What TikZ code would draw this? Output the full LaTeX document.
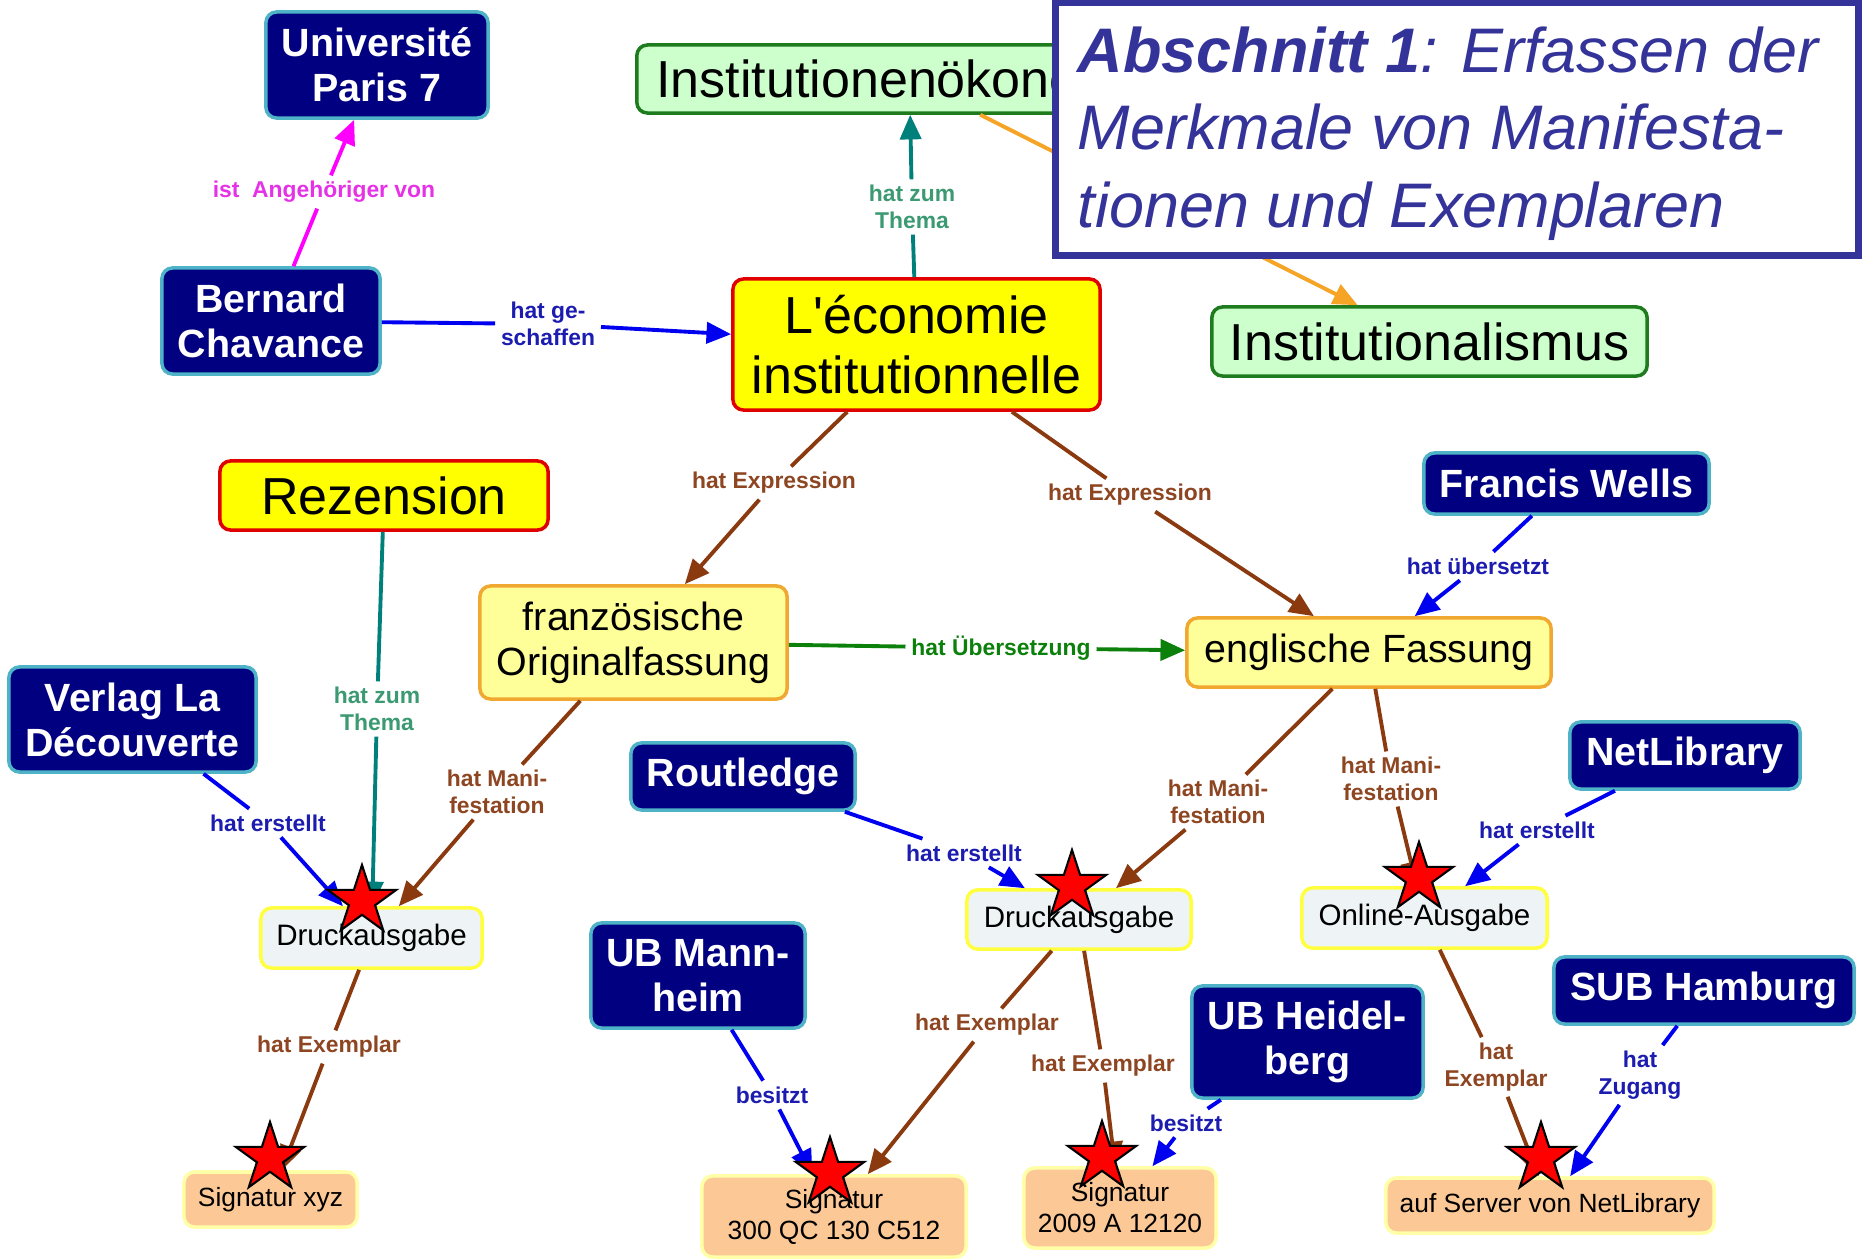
\documentclass[tikz,border=0pt]{standalone}
\usepackage{fontspec}
\setmainfont{Liberation Sans}
\newfontfamily\plainsans{Liberation Sans}
\usetikzlibrary{arrows.meta,shapes.geometric}
\definecolor{navy}{HTML}{000080}
\definecolor{navyb}{HTML}{4FB3C8}
\definecolor{yel}{HTML}{FFFF00}
\definecolor{redb}{HTML}{E00000}
\definecolor{lyel}{HTML}{FFFF99}
\definecolor{orab}{HTML}{F0A830}
\definecolor{lgreen}{HTML}{CCFFCC}
\definecolor{dgreen}{HTML}{1E7B1E}
\definecolor{leaf}{HTML}{EEF3F5}
\definecolor{leafb}{HTML}{FFFF40}
\definecolor{peach}{HTML}{FCC896}
\definecolor{peachb}{HTML}{FFFFA8}
\definecolor{absc}{HTML}{333399}
\definecolor{brownl}{HTML}{8B3A0F}
\definecolor{brownt}{HTML}{8E4622}
\definecolor{bluel}{HTML}{0000F0}
\definecolor{bluet}{HTML}{1C1CB0}
\definecolor{magl}{HTML}{FF00FF}
\definecolor{magt}{HTML}{E632E6}
\definecolor{teall}{HTML}{00807A}
\definecolor{tealt}{HTML}{3C9A72}
\definecolor{greenl}{HTML}{0B800B}
\definecolor{orangel}{HTML}{F5A425}
\begin{document}
\begin{tikzpicture}[x=0.01cm,y=-0.01cm,
  navybox/.style={draw=navyb, fill=navy, line width=1pt, rounded corners=3pt, text=white,
    font=\bfseries\fontsize{11.2}{12.8}\selectfont, align=center, inner sep=0pt},
  bigbox/.style={draw=redb, fill=yel, line width=1pt, rounded corners=3pt,
    font=\fontsize{14.8}{17}\selectfont, align=center, inner sep=0pt},
  greenbox/.style={draw=dgreen, fill=lgreen, line width=1pt, rounded corners=3pt,
    font=\fontsize{14.8}{17}\selectfont, align=center, inner sep=0pt},
  expbox/.style={draw=orab, fill=lyel, line width=1pt, rounded corners=3pt,
    font=\fontsize{11.2}{12.8}\selectfont, align=center, inner sep=0pt},
  manbox/.style={draw=leafb, fill=leaf, line width=1pt, rounded corners=3pt,
    font=\fontsize{8.4}{10}\selectfont, align=center, inner sep=0pt},
  sigbox/.style={draw=peachb, fill=peach, line width=1pt, rounded corners=3pt,
    font=\fontsize{7.5}{8.8}\selectfont, align=center, inner sep=0pt},
  lab/.style={font=\bfseries\fontsize{6.5}{7.5}\selectfont, align=center, inner sep=1.5pt},
  conn/.style={line width=1.1pt},
  arr/.style={-{Triangle[length=7pt,width=6pt]}},
  bro/.style={conn, draw=brownl},
  blu/.style={conn, draw=bluel},
  mag/.style={conn, draw=magl},
  tea/.style={conn, draw=teall},
  grn/.style={conn, draw=greenl},
  ora/.style={conn, draw=orangel},
  starmark/.style={star, star points=5, star point ratio=2.618, minimum size=0.72cm,
    inner sep=0pt, fill=red, draw=black, line width=0.6pt}
]
\fill[white] (0,0) rectangle (1865,1260);
\useasboundingbox (0,0) rectangle (1865,1260);

% concept nodes
\node[navybox, minimum width=2.22cm, minimum height=1.06cm] (univ) at (377,65) {Université\\Paris 7};
\node[navybox, minimum width=2.18cm, minimum height=1.06cm] (bern) at (271,321) {Bernard\\Chavance};
\node[greenbox, minimum width=5.45cm, minimum height=0.68cm] (inst) at (909.5,79) {Institutionenökonomie};
\node[bigbox, minimum width=3.67cm, minimum height=1.31cm] (leco) at (916.5,344.5) {L{\plainsans'}économie\\institutionnelle};
\node[greenbox, minimum width=4.35cm, minimum height=0.69cm] (instal) at (1429.5,341.5) {Institutionalismus};
\node[bigbox, minimum width=3.28cm, minimum height=0.69cm] (rez) at (384,495.5) {Rezension};
\node[expbox, minimum width=3.07cm, minimum height=1.13cm] (franz) at (633.5,642.5) {französische\\Originalfassung};
\node[expbox, minimum width=3.64cm, minimum height=0.69cm] (engl) at (1369,652.5) {englische Fassung};
\node[navybox, minimum width=2.85cm, minimum height=0.61cm] (wells) at (1566.5,483.5) {Francis Wells};
\node[navybox, minimum width=2.47cm, minimum height=1.05cm] (verlag) at (132.5,719.5) {Verlag La\\Découverte};
\node[navybox, minimum width=2.24cm, minimum height=0.67cm] (routledge) at (743,776.5) {Routledge};
\node[navybox, minimum width=2.30cm, minimum height=0.67cm] (netlib) at (1685,755.5) {NetLibrary};
\node[navybox, minimum width=2.14cm, minimum height=1.05cm] (mannheim) at (698,975.5) {UB Mann-\\heim};
\node[navybox, minimum width=2.31cm, minimum height=1.12cm] (heidel) at (1307.5,1042) {UB Heidel-\\berg};
\node[navybox, minimum width=3.00cm, minimum height=0.67cm] (hamburg) at (1704,990.5) {SUB Hamburg};
\node[manbox, minimum width=2.21cm, minimum height=0.60cm] (druckL) at (371.5,938) {Druckausgabe};
\node[manbox, minimum width=2.24cm, minimum height=0.59cm] (druckM) at (1079,919.5) {Druckausgabe};
\node[manbox, minimum width=2.45cm, minimum height=0.60cm] (online) at (1424.5,918) {Online-Ausgabe};
\node[sigbox, minimum width=1.73cm, minimum height=0.55cm] (sigxyz) at (270.5,1199.5) {Signatur xyz};
\node[sigbox, minimum width=2.64cm, minimum height=0.81cm] (sig300) at (834,1216.5) {Signatur\\300 QC 130 C512};
\node[sigbox, minimum width=1.92cm, minimum height=0.80cm] (sig2009) at (1120,1208) {Signatur\\2009 A 12120};
\node[sigbox, minimum width=3.28cm, minimum height=0.55cm] (server) at (1550,1205.5) {auf Server von NetLibrary};

% linking phrases
\node[lab, text=magt] (l1) at (324,192) {ist\ \ Angehöriger von};
\node[lab, text=bluet] (l2) at (548,324) {hat ge-\\schaffen};
\node[lab, text=tealt] (l3) at (912,207) {hat zum\\Thema};
\node[lab, text=brownt] (l4) at (774,483) {hat Expression};
\node[lab, text=brownt] (l5) at (1130,495) {hat Expression};
\node[lab, text=greenl] (l6) at (1001,648) {hat Übersetzung};
\node[lab, text=bluet] (l7) at (1478,566) {hat übersetzt};
\node[lab, text=tealt] (l8) at (377,709) {hat zum\\Thema};
\node[lab, text=bluet] (l9) at (268,823) {hat erstellt};
\node[lab, text=brownt] (l10) at (497,792) {hat Mani-\\festation};
\node[lab, text=brownt] (l11) at (329,1047) {hat Exemplar};
\node[lab, text=bluet] (l12) at (964,853) {hat erstellt};
\node[lab, text=brownt] (l13) at (1218,802) {hat Mani-\\festation};
\node[lab, text=brownt] (l14) at (1391,779) {hat Mani-\\festation};
\node[lab, text=bluet] (l15) at (1537,830) {hat erstellt};
\node[lab, text=brownt] (l16) at (987,1025) {hat Exemplar};
\node[lab, text=brownt] (l17) at (1103,1066) {hat Exemplar};
\node[lab, text=bluet] (l18) at (772,1095) {besitzt};
\node[lab, text=bluet] (l19) at (1186,1123) {besitzt};
\node[lab, text=brownt] (l20) at (1496,1067) {hat\\Exemplar};
\node[lab, text=bluet] (l21) at (1640,1075) {hat\\Zugang};

% connectors
\draw[mag] (bern) -- (l1); \draw[mag,arr] (l1) -- (univ);
\draw[blu] (bern) -- (l2); \draw[blu,arr] (l2) -- (leco);
\draw[tea] (leco) -- (l3); \draw[tea,arr] (l3) -- (inst);
\draw[ora,arr] (inst) -- (instal);
\draw[bro] (leco) -- (l4); \draw[bro,arr] (l4) -- (franz);
\draw[bro] (leco) -- (l5); \draw[bro,arr] (l5) -- (engl);
\draw[grn] (franz) -- (l6); \draw[grn,arr] (l6) -- (engl);
\draw[blu] (wells) -- (l7); \draw[blu,arr] (l7) -- (engl);
\draw[tea] (rez) -- (l8); \draw[tea,arr] (l8) -- (druckL);
\draw[blu] (verlag) -- (l9); \draw[blu,arr] (l9) -- (druckL);
\draw[bro] (franz) -- (l10); \draw[bro,arr] (l10) -- (druckL);
\draw[bro] (druckL) -- (l11); \draw[bro,arr] (l11) -- (sigxyz);
\draw[blu] (routledge) -- (l12); \draw[blu,arr] (l12) -- (druckM);
\draw[bro] (engl) -- (l13); \draw[bro,arr] (l13) -- (druckM);
\draw[bro] (engl) -- (l14); \draw[bro,arr] (l14) -- (online);
\draw[blu] (netlib) -- (l15); \draw[blu,arr] (l15) -- (online);
\draw[bro] (druckM) -- (l16); \draw[bro,arr] (l16) -- (sig300);
\draw[bro] (druckM) -- (l17); \draw[bro,arr] (l17) -- (sig2009);
\draw[blu] (mannheim) -- (l18); \draw[blu,arr] (l18) -- (sig300);
\draw[blu] (heidel) -- (l19); \draw[blu,arr] (l19) -- (sig2009);
\draw[bro] (online) -- (l20); \draw[bro,arr] (l20) -- (server);
\draw[blu] (hamburg) -- (l21); \draw[blu,arr] (l21) -- (server);

% stars
\node[starmark] (s1) at (362,901) {};
\node[starmark] (s2) at (270,1158) {};
\node[starmark] (s3) at (830,1173) {};
\node[starmark] (s4) at (1072,886) {};
\node[starmark] (s5) at (1102,1157) {};
\node[starmark] (s6) at (1419,878) {};
\node[starmark] (s7) at (1541,1158) {};

% title box
\node[draw=absc, line width=2pt, fill=white, minimum width=8.02cm, minimum height=2.52cm,
  inner sep=0pt] (abs) at (1457,129) {};
\node[anchor=base west, inner sep=0pt, align=left, text=absc,
  font=\itshape\fontsize{17.9}{21.9}\selectfont] (abstext) at (1077,227)
  {\textbf{Abschnitt 1}: Erfassen der\\Merkmale von Manifesta-\\tionen und Exemplaren};
\end{tikzpicture}
\end{document}
